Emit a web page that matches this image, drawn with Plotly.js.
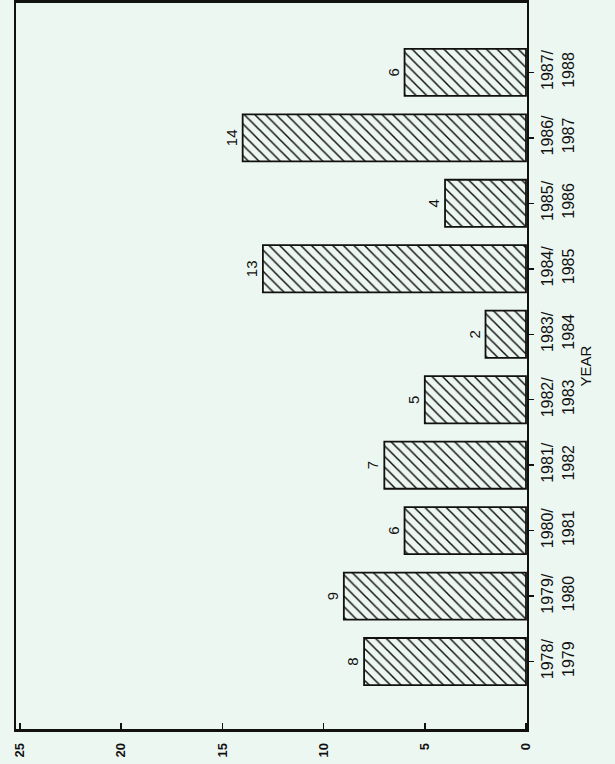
<!DOCTYPE html>
<html>
<head>
<meta charset="utf-8">
<script src="https://cdn.plot.ly/plotly-3.0.1.min.js"></script>
<style>html,body{margin:0;padding:0;background:#edf7f1;}#chart{width:615px;height:764px;}</style>
</head>
<body>
<div id="chart"></div>
<script>
const categories = ["1978/<br>1979","1979/<br>1980","1980/<br>1981","1981/<br>1982","1982/<br>1983","1983/<br>1984","1984/<br>1985","1985/<br>1986","1986/<br>1987","1987/<br>1988"];
const values = [8, 9, 6, 7, 5, 2, 13, 4, 14, 6];
const valueTicks = [0, 5, 10, 15, 20, 25];
const axisTitle = "YEAR";

const ink = "#111111";
const bg = "#edf7f1";
const fontFam = "'Liberation Sans Narrow', 'Liberation Sans', Arial, sans-serif";

const trace = {
  type: "bar",
  orientation: "h",
  y: categories,
  x: values,
  text: values.map(String),
  textposition: "outside",
  textangle: -90,
  cliponaxis: false,
  textfont: {family: fontFam, size: 15, color: ink},
  marker: {
    color: bg,
    line: {color: ink, width: 1.8},
    pattern: {shape: "\\", size: 7.5, solidity: 0.2, fgcolor: ink, bgcolor: bg, fillmode: "replace"}
  },
  hoverinfo: "none"
};

const layout = {
  width: 615, height: 764,
  margin: {l: 16, r: 88, t: 3, b: 35},
  paper_bgcolor: bg, plot_bgcolor: bg,
  showlegend: false,
  bargap: 0.28,
  font: {family: fontFam, color: ink},
  xaxis: {
    range: [25.2, -0.05],
    tickvals: valueTicks,
    ticktext: valueTicks.map(String),
    ticks: "inside", ticklen: 6, tickwidth: 1.5, tickcolor: ink,
    tickangle: -90,
    ticklabelstandoff: 6,
    tickfont: {family: fontFam, size: 13, color: ink, weight: "bold"},
    showgrid: false, zeroline: false,
    showline: true, linecolor: ink, linewidth: 2.8, mirror: true
  },
  yaxis: {
    type: "category",
    side: "right",
    range: [-1.03, 10.06],
    ticks: "outside", ticklen: 5, tickwidth: 1.5, tickcolor: ink,
    tickangle: -90,
    tickfont: {family: fontFam, size: 16, color: ink},
    showgrid: false, zeroline: false,
    showline: true, linecolor: ink, linewidth: 2, mirror: true,
    title: {text: axisTitle, font: {family: fontFam, size: 15, color: ink}, standoff: 4}
  }
};

Plotly.newPlot("chart", [trace], layout, {displayModeBar: false, staticPlot: true});
</script>
</body>
</html>
